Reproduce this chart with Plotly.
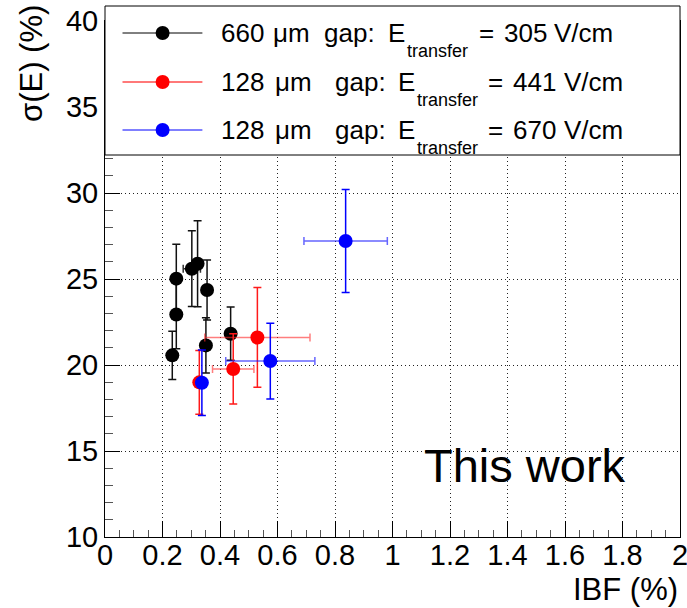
import plotly.graph_objects as go

# ---------------- data ----------------
black_x = [0.234, 0.248, 0.248, 0.302, 0.322, 0.355, 0.351, 0.437]
black_y = [20.56, 22.94, 25.02, 25.60, 25.89, 24.36, 21.14, 21.82]
black_xerr = [0.012, 0.012, 0.012, 0.030, 0.012, 0.012, 0.012, 0.012]
black_yerr = [1.40, 2.00, 2.00, 2.20, 2.50, 1.75, 1.60, 1.55]

red_x = [0.328, 0.446, 0.530]
red_y = [18.99, 19.77, 21.60]
red_xerr = [0.012, 0.072, 0.183]
red_yerr = [1.86, 2.04, 2.90]

blue_x = [0.337, 0.575, 0.837]
blue_y = [18.97, 20.23, 27.21]
blue_xerr = [0.012, 0.155, 0.145]
blue_yerr = [1.90, 2.20, 3.00]

x_range = [0, 2]
y_range = [10, 40]

FONT = "Liberation Sans, Arial, Helvetica, sans-serif"

# geometry helpers (plot area in pixels)
W, H = 687, 608
ML, MR, MT, MB = 105, 7, 21, 71
PW = W - ML - MR
PH = H - MT - MB


def px(xp):
    return (xp - ML) / PW


def py(yp):
    return (H - MB - yp) / PH


fig = go.Figure()

series = [
    (black_x, black_y, black_xerr, black_yerr, "black", "#111111", "#333333"),
    (red_x, red_y, red_xerr, red_yerr, "#ff0000", "#ff1a1a", "rgba(255,40,40,0.6)"),
    (blue_x, blue_y, blue_xerr, blue_yerr, "#0000ff", "#0000ff", "rgba(20,20,255,0.65)"),
]
for xs, ys, xe, ye, mc, ycol, xcol in series:
    fig.add_trace(go.Scatter(
        x=xs, y=ys, mode="markers",
        marker=dict(size=14, color=mc, line=dict(width=0)),
        error_y=dict(type="data", array=ye, color=ycol, thickness=1.5, width=4),
        error_x=dict(type="data", array=xe, color=xcol, thickness=1.5, width=4),
        showlegend=False, hoverinfo="skip",
    ))

# ---------------- legend box (drawn manually, ROOT style) ----------------
shapes = [dict(type="rect", xref="paper", yref="paper",
               x0=0, x1=1, y0=py(155), y1=py(6),
               fillcolor="white", line=dict(color="black", width=1), layer="above")]
annotations = []

rows = [
    dict(yc=33, col="black", lw=1, num="660", parts_x=[219, 271, 322, 386, 405, 477, 502, 552], val="305"),
    dict(yc=82, col="#ff4d4d", lw=1.5, num="128", parts_x=[219, 273, 333, 396, 415, 486, 511, 562], val="441"),
    dict(yc=130, col="#0000ff", lw=1, num="128", parts_x=[219, 273, 333, 396, 415, 486, 511, 562], val="670"),
]
marker_cols = ["black", "#ff0000", "#0000ff"]
for r, mcol in zip(rows, marker_cols):
    yc = r["yc"]
    shapes.append(dict(type="line", xref="paper", yref="paper",
                       x0=px(122.5), x1=px(202.4), y0=py(yc), y1=py(yc),
                       line=dict(color=r["col"], width=r["lw"]), layer="above"))
    shapes.append(dict(type="circle", xref="paper", yref="paper",
                       xsizemode="pixel", ysizemode="pixel",
                       xanchor=px(162.6), yanchor=py(yc),
                       x0=-7, x1=7, y0=-7, y1=7,
                       fillcolor=mcol, line=dict(width=0), layer="above"))
    pieces = [r["num"], "μm", "gap:", "E", None, "=", r["val"], "V/cm"]
    xs = r["parts_x"]
    for i, t in enumerate(pieces):
        if t is None:
            annotations.append(dict(text="transfer", xref="paper", yref="paper",
                                    x=px(xs[i]), y=py(yc + 18), xanchor="left", yanchor="middle",
                                    showarrow=False, font=dict(family=FONT, size=18, color="black")))
        else:
            annotations.append(dict(text=t, xref="paper", yref="paper",
                                    x=px(xs[i]), y=py(yc), xanchor="left", yanchor="middle",
                                    showarrow=False, font=dict(family=FONT, size=26, color="black")))

# "This work"
annotations.append(dict(text="This work", xref="paper", yref="paper",
                        x=px(422), y=py(465), xanchor="left", yanchor="middle",
                        showarrow=False, font=dict(family=FONT, size=47, color="black")))
# axis titles (ROOT style: at the end of the axes)
annotations.append(dict(text="IBF (%)", xref="paper", yref="paper",
                        x=px(680), y=py(589), xanchor="right", yanchor="middle",
                        showarrow=False, font=dict(family=FONT, size=31, color="black")))
annotations.append(dict(text="σ(E) (%)", xref="paper", yref="paper",
                        x=px(31), y=py(64), xanchor="center", yanchor="middle", textangle=-90,
                        showarrow=False, font=dict(family=FONT, size=31, color="black")))

axis_common = dict(
    showline=True, mirror=True, linecolor="black", linewidth=1,
    ticks="inside", tickcolor="black", tickwidth=1,
    showgrid=True, gridcolor="#222222", gridwidth=1, griddash="1px,3px",
    zeroline=False, ticklabeloverflow="allow", automargin=False,
    tickfont=dict(family=FONT, size=29, color="black"),
)

fig.update_layout(
    width=W, height=H,
    margin=dict(l=ML, r=MR, t=MT, b=MB, autoexpand=False),
    paper_bgcolor="white", plot_bgcolor="white",
    showlegend=False,
    xaxis=dict(range=x_range, dtick=0.2, tick0=0, ticklen=16, ticklabelstandoff=-8,
               minor=dict(dtick=0.05, ticks="inside", ticklen=7, tickcolor="#555555", showgrid=False),
               **axis_common),
    yaxis=dict(range=y_range, dtick=5, tick0=10, ticklen=15,
               minor=dict(dtick=1, ticks="inside", ticklen=8, tickcolor="#555555", showgrid=False),
               **axis_common),
    shapes=shapes,
    annotations=annotations,
)

fig.write_html("out.html")
